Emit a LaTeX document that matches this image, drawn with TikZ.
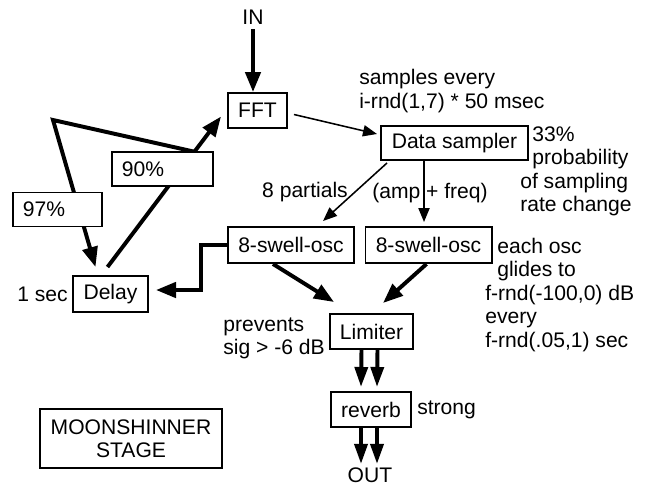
\documentclass[tikz,border=0pt]{standalone}
\usepackage{fontspec}
\setmainfont{Liberation Sans}
\usetikzlibrary{positioning,arrows.meta,calc}

\begin{document}
\begin{tikzpicture}[
  x=0.025cm, y=-0.025cm,
  every node/.style = {font=\fontsize{15pt}{16.7pt}\selectfont},
  blk/.style  = {draw, line width=1.4pt, fill=white, minimum height=0.875cm,
                 inner sep=2pt, text centered},
  pct/.style  = {draw, line width=1.4pt, fill=white, minimum height=0.85cm,
                 inner xsep=0.25cm, align=left},
  note/.style = {inner sep=0pt, align=left},
  fat/.style  = {-{Triangle[length=0.5cm,width=0.38cm]}, line width=2.8pt},
  dbl/.style  = {-{Triangle[length=0.5cm,width=0.32cm]}, line width=2.8pt},
  arr/.style  = {-{Triangle[length=0.35cm,width=0.28cm]}, line width=1.1pt}
]
  \useasboundingbox (0,0) rectangle (648,487);

  \node[blk, minimum width=1.475cm] (fft) at (257.5,110.5) {FFT};
  \node[blk, minimum width=3.675cm, minimum height=0.85cm] (sampler) at (454.5,143) {Data sampler};
  \node[blk, minimum width=3.15cm, minimum height=0.9cm] (osca) at (291,245) {8-swell-osc};
  \node[blk, minimum width=3.15cm, minimum height=0.9cm] (oscb) at (428.5,245) {8-swell-osc};
  \node[blk, minimum width=1.875cm, minimum height=0.9cm] (delay) at (110.5,294) {Delay};
  \node[blk, minimum width=2.075cm] (limiter) at (371.5,331.5) {Limiter};
  \node[blk, minimum width=2cm] (reverb) at (371,409.5) {reverb};
  \node[blk, minimum width=4.55cm, minimum height=1.475cm, align=center] (stage)
    at (131,438.5) {MOONSHINNER\\STAGE};

  \node (input)  at (253,17)  {IN};
  \node (output) at (370,475) {OUT};

  \node[note, anchor=west] (every) at (359,91) {samples every\\i-rnd(1,7) * 50 msec};
  \node[note, anchor=west] (prob) at (520,171.5)
    {\hspace*{0.3cm}33\%\\\hspace*{0.3cm}probability\\of sampling\\rate change};
  \node[note] (partials) at (305,192) {8 partials};
  \node[note] (ampfreq)  at (430,193) {(amp + freq)};
  \node[note, anchor=west] (glide) at (485,295)
    {\hspace*{0.3cm}each osc\\\hspace*{0.3cm}glides to\\f-rnd(-100,0) dB\\every\\f-rnd(.05,1) sec};
  \node[note, anchor=west] (prevents) at (223,338.5) {prevents\\sig > -6 dB};
  \node[note, anchor=west] (strong) at (417,410) {strong};
  \node[note, anchor=east] (onesec) at (68,294) {1 sec};

  \draw[fat] (input) -- (input |- fft.north);
  \draw[arr] ($(fft.east)+(6,4)$) -- ($(sampler.west)+(-3,-9)$);
  \draw[arr] ($(sampler.south west)+(7,2)$) -- ($(osca.north east)+(-32,-5)$);
  \draw[arr] ($(sampler.south)+(-30.5,0)$) -- ($(oscb.north)+(-4.5,-4)$);

  \draw[fat] ($(osca.south)+(-18,0)$) -- ($(limiter.north west)+(5,-11)$);
  \draw[fat] ($(oscb.south)+(-2,0)$) -- ($(limiter.north)+(11.5,-10)$);
  \foreach \dx in {-10,6}{
    \draw[dbl] ($(limiter.south)+(\dx,0)$) -- ($(reverb.north)+(\dx,-4)$);
    \draw[dbl] ($(reverb.south)+(\dx,0)$) -- ++(0,36);
  }

  \draw[fat] (osca.west) -- ++(-26,0) |- ($(delay.east)+(7,-4)$);
  \draw[fat] ($(delay.north)+(-3,-8)$) -- coordinate[pos=0.766] (split) ($(fft.west)+(-6,6)$);
  \coordinate (corner) at (53,120);
  \draw[fat] (split) -- (corner) -- ($(delay.north)+(-15,-8)$);

  \node[pct, text width=2.025cm] (ninety) at (162.5,169) {90\%};
  \node[pct, text width=1.725cm] (ninetyseven) at (57.5,209.5) {97\%};
\end{tikzpicture}
\end{document}
